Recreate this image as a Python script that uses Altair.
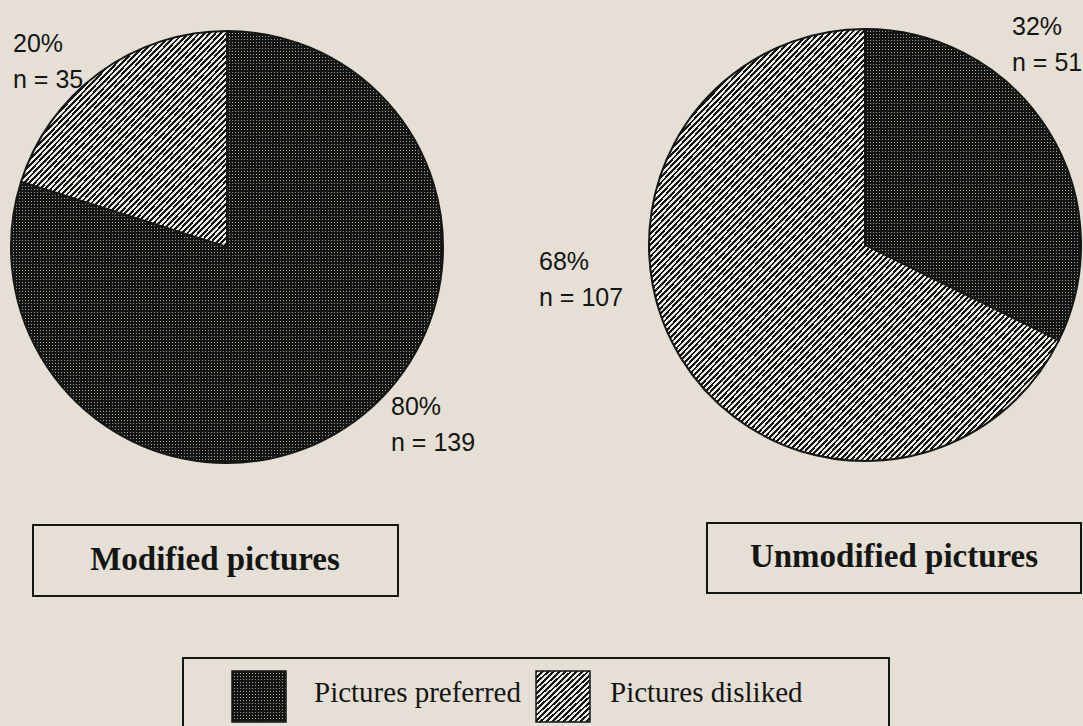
import math

import altair as alt
import pandas as pd

# ---- data -------------------------------------------------------------
slices = ["Pictures preferred", "Pictures disliked"]
modified_n = [139, 35]
unmodified_n = [51, 107]
panel_titles = ["Modified pictures", "Unmodified pictures"]

# ---- style ------------------------------------------------------------
W, H = 1083, 726
BG = "#e5dfd5"
INK = "#141614"
PAPER = "#eeece4"
DOT = "#9ea09a"
R = 216
HATCH_PERIOD = 3.9
DOT_PERIOD = 3
LABEL_FONT = "Liberation Sans"
SERIF = "Liberation Serif"


def bands(n, dark, light, x2, y2, dark_frac):
    """Linear gradient with hard-edged repeating bands, used as a fill pattern."""
    stops = []
    for k in range(n):
        a = round(k / n, 6)
        b = round((k + dark_frac) / n, 6)
        c = round((k + 1) / n, 6)
        stops += [
            {"offset": a, "color": dark},
            {"offset": b, "color": dark},
            {"offset": b, "color": light},
            {"offset": c, "color": light},
        ]
    return {"gradient": "linear", "x1": 0, "y1": 0, "x2": x2, "y2": y2, "stops": stops}


def hatch(w, h):
    n = max(1, round(2 / (HATCH_PERIOD * math.sqrt(1 / w ** 2 + 1 / h ** 2))))
    return bands(n, INK, PAPER, 1, 1, 0.5)


def dot_rows(h):
    # whole number of pixel-aligned periods, gradient may run past the box
    n = max(1, math.ceil(h / DOT_PERIOD))
    return bands(n, INK, DOT, 0, n * DOT_PERIOD / h, 2 / 3)


def dot_cols(w):
    n = max(1, math.ceil(w / DOT_PERIOD))
    return bands(n, INK, "rgba(0,0,0,0)", n * DOT_PERIOD / w, 0, 2 / 3)


def wedge_box(f0, f1, r):
    """Width/height of the bounding box of a pie wedge from fraction f0 to f1."""
    a0, a1 = 2 * math.pi * f0, 2 * math.pi * f1
    angs = [a0, a1] + [k * math.pi / 2 for k in range(5) if a0 < k * math.pi / 2 < a1]
    xs = [0.0] + [math.sin(a) for a in angs]
    ys = [0.0] + [-math.cos(a) for a in angs]
    return (max(xs) - min(xs)) * r, (max(ys) - min(ys)) * r


def pie(values, cx, cy):
    df = pd.DataFrame({"slice": slices, "n": values, "order": [0, 1]})
    total = sum(values)
    f_split = values[0] / total
    pw, ph = wedge_box(0, f_split, R)
    dw, dh = wedge_box(f_split, 1, R)
    is_pref = alt.datum.slice == slices[0]

    enc = dict(
        theta=alt.Theta("n:Q", stack="normalize"),
        order=alt.Order("order:Q"),
        x=alt.value(cx),
        y=alt.value(cy),
    )
    base = (
        alt.Chart(df)
        .mark_arc(radius=R, stroke=INK, strokeWidth=2)
        .encode(fill=alt.condition(is_pref, alt.value(dot_rows(ph)), alt.value(hatch(dw, dh))), **enc)
    )
    overlay = (
        alt.Chart(df)
        .mark_arc(radius=R)
        .encode(fill=alt.condition(is_pref, alt.value(dot_cols(pw)), alt.value("transparent")), **enc)
    )
    return [base, overlay]


def pct_label(values, i, x, y):
    total = sum(values)
    lines = [f"{round(100 * values[i] / total)}%", f"n = {values[i]}"]
    return (
        alt.Chart(pd.DataFrame({"slice": [slices[i]]}))
        .mark_text(align="left", baseline="alphabetic", font=LABEL_FONT, fontSize=25,
                   lineHeight=36, color=INK)
        .encode(x=alt.value(x), y=alt.value(y), text=alt.value(lines))
    )


def box(x0, x1, y0, y1):
    return (
        alt.Chart(pd.DataFrame({"k": [0]}))
        .mark_rect(fill="transparent", stroke=INK, strokeWidth=2)
        .encode(x=alt.value(x0), x2=alt.value(x1), y=alt.value(y0), y2=alt.value(y1))
    )


def swatch(x0, x1, y0, y1, fill, stroke=True):
    mark = alt.Chart(pd.DataFrame({"k": [0]}))
    mark = mark.mark_rect(stroke=INK, strokeWidth=1.5) if stroke else mark.mark_rect()
    return mark.encode(x=alt.value(x0), x2=alt.value(x1), y=alt.value(y0), y2=alt.value(y1),
                       fill=alt.value(fill))


def caption(text, x, y, size, weight, align):
    return (
        alt.Chart(pd.DataFrame({"k": [0]}))
        .mark_text(align=align, baseline="alphabetic", font=SERIF, fontSize=size,
                   fontWeight=weight, color=INK)
        .encode(x=alt.value(x), y=alt.value(y), text=alt.value(text))
    )


layers = []
layers += pie(modified_n, 227, 247)
layers += pie(unmodified_n, 865, 245)

layers += [
    pct_label(modified_n, 1, 13, 52),
    pct_label(modified_n, 0, 391, 415),
    pct_label(unmodified_n, 0, 1012, 35),
    pct_label(unmodified_n, 1, 539, 270),
]

# panel titles in framed boxes
layers += [
    box(33, 398, 525, 596),
    caption(panel_titles[0], 215, 570, 33, "bold", "center"),
    box(707, 1081, 523, 593),
    caption(panel_titles[1], 894, 567, 33, "bold", "center"),
]

# legend
sw_w, sw_h = 54, 51
layers += [
    box(183, 889, 658, 740),
    swatch(232, 232 + sw_w, 671, 671 + sw_h, dot_rows(sw_h)),
    swatch(232, 232 + sw_w, 671, 671 + sw_h, dot_cols(sw_w), stroke=False),
    caption(slices[0], 314, 702, 29, "normal", "left"),
    swatch(536, 536 + sw_w, 671, 671 + sw_h, hatch(sw_w, sw_h)),
    caption(slices[1], 610, 702, 29, "normal", "left"),
]

chart = (
    alt.layer(*layers)
    .properties(width=W, height=H, autosize="none", padding=0, background=BG)
    .configure_view(strokeWidth=0)
)

chart.save("out.html", embed_options={"renderer": "svg", "actions": False})
